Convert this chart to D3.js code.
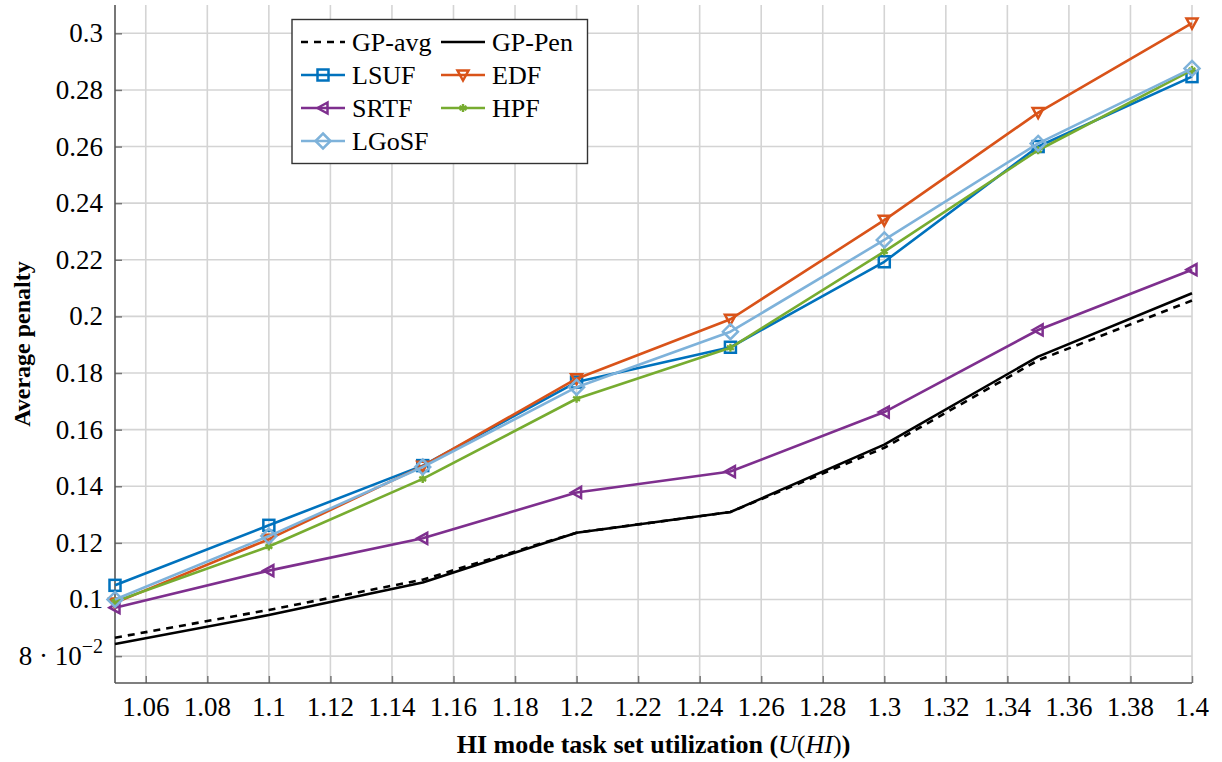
<!DOCTYPE html>
<html><head><meta charset="utf-8">
<script src="https://cdn.jsdelivr.net/npm/d3@7"></script>
<style>
html,body{margin:0;padding:0;background:#fff;}
text{font-family:'Liberation Serif','Times New Roman',Tinos,'DejaVu Serif',serif;}
</style></head>
<body>
<svg id="chart" width="1222" height="762"></svg>
<script>
const xValues = [1.05, 1.1, 1.15, 1.2, 1.25, 1.3, 1.35, 1.4];
const gpAvg  = [0.0865, 0.0963, 0.1070, 0.1236, 0.1309, 0.1536, 0.1845, 0.2056];
const gpPen  = [0.0843, 0.0945, 0.1060, 0.1236, 0.1309, 0.1547, 0.1858, 0.2082];
const lsuf   = [0.1050, 0.1262, 0.1473, 0.1768, 0.1891, 0.2193, 0.2600, 0.2847];
const edf    = [0.0988, 0.1213, 0.1471, 0.1780, 0.1990, 0.2340, 0.2720, 0.3036];
const srtf   = [0.0971, 0.1102, 0.1216, 0.1378, 0.1452, 0.1662, 0.1952, 0.2165];
const hpf    = [0.0993, 0.1187, 0.1426, 0.1709, 0.1889, 0.2229, 0.2587, 0.2870];
const lgosf  = [0.1000, 0.1224, 0.1468, 0.1750, 0.1946, 0.2270, 0.2611, 0.2876];
const seriesNames = ["GP-avg", "GP-Pen", "LSUF", "EDF", "SRTF", "HPF", "LGoSF"];
const xTicks = [1.06,1.08,1.1,1.12,1.14,1.16,1.18,1.2,1.22,1.24,1.26,1.28,1.3,1.32,1.34,1.36,1.38,1.4];
const xTickLabels = ["1.06","1.08","1.1","1.12","1.14","1.16","1.18","1.2","1.22","1.24","1.26","1.28","1.3","1.32","1.34","1.36","1.38","1.4"];
const yTicks = [0.08,0.1,0.12,0.14,0.16,0.18,0.2,0.22,0.24,0.26,0.28,0.3];
const yTickLabels = ["8·10^-2","0.1","0.12","0.14","0.16","0.18","0.2","0.22","0.24","0.26","0.28","0.3"];
const xLabel = "HI mode task set utilization";
const yLabel = "Average penalty";

const FONT = "'Liberation Serif','Times New Roman',Tinos,'DejaVu Serif',serif";
const styles = {
  "GP-avg": {color:"#000000", dash:"7,6", marker:null},
  "GP-Pen": {color:"#000000", dash:null, marker:null},
  "LSUF":   {color:"#0072BD", dash:null, marker:"square"},
  "EDF":    {color:"#D95319", dash:null, marker:"tridown"},
  "SRTF":   {color:"#7E2F8E", dash:null, marker:"trileft"},
  "HPF":    {color:"#77AC30", dash:null, marker:"asterisk"},
  "LGoSF":  {color:"#7EB2DA", dash:null, marker:"diamond"}
};
const seriesData = [gpAvg, gpPen, lsuf, edf, srtf, hpf, lgosf];

const svg = d3.select("#chart").attr("font-family", FONT);
const L = 115, R = 1192, T = 5, B = 683;
const x = d3.scaleLinear().domain([1.05, 1.4]).range([L, R]);
const y = d3.scaleLinear().domain([0.0705, 0.31]).range([B, T]);

// grid
const g = svg.append("g");
g.selectAll(".gx").data(xTicks).enter().append("line")
  .attr("x1", d=>x(d)).attr("x2", d=>x(d)).attr("y1", T).attr("y2", B)
  .attr("stroke", "#d4d4d4").attr("stroke-width", 1.6);
g.selectAll(".gy").data(yTicks).enter().append("line")
  .attr("x1", L).attr("x2", R).attr("y1", d=>y(d)).attr("y2", d=>y(d))
  .attr("stroke", "#d4d4d4").attr("stroke-width", 1.6);

// axes using d3 axes (ticks pointing inward)
const xAxis = d3.axisTop(x).tickValues(xTicks).tickSize(7).tickFormat("");
const yAxis = d3.axisRight(y).tickValues(yTicks).tickSize(7).tickFormat("");
const xa = svg.append("g").attr("transform", `translate(0,${B})`).call(xAxis);
const ya = svg.append("g").attr("transform", `translate(${L},0)`).call(yAxis);
[xa, ya].forEach(a => {
  a.select(".domain").remove();
  a.selectAll(".tick line").attr("stroke", "#777").attr("stroke-width", 1.5);
});
svg.append("line").attr("x1", L).attr("x2", R).attr("y1", B).attr("y2", B)
  .attr("stroke", "#555").attr("stroke-width", 1.6);
svg.append("line").attr("x1", L).attr("x2", L).attr("y1", T).attr("y2", B)
  .attr("stroke", "#555").attr("stroke-width", 1.6);

// tick labels
svg.append("g").selectAll("text").data(xTicks).enter().append("text")
  .attr("x", d=>x(d)).attr("y", 716).attr("text-anchor", "middle")
  .attr("font-family", FONT).attr("font-size", 27).attr("fill", "#000")
  .text((d,i)=>xTickLabels[i]);
const yl = svg.append("g");
yTicks.forEach((d,i) => {
  const lab = yTickLabels[i];
  const t = yl.append("text").attr("x", 103).attr("y", y(d) + 9)
    .attr("text-anchor", "end").attr("font-family", FONT).attr("font-size", 27).attr("fill", "#000");
  if (lab.includes("^")) {
    const [base, exp] = lab.split("^");
    t.append("tspan").text(base.replace("·", " · "));
    t.append("tspan").attr("dy", -12).attr("font-size", 20).text("\u2212" + exp.replace("-", ""));
  } else {
    t.text(lab);
  }
});

// axis labels
const xl = svg.append("text").attr("x", (L+R)/2).attr("y", 753)
  .attr("text-anchor", "middle").attr("font-family", FONT).attr("font-size", 26).attr("fill", "#000");
xl.append("tspan").attr("font-weight", "bold").text(xLabel + " (");
xl.append("tspan").attr("font-style", "italic").text("U");
xl.append("tspan").text("(");
xl.append("tspan").attr("font-style", "italic").text("HI");
xl.append("tspan").text(")");
xl.append("tspan").attr("font-weight", "bold").text(")");

svg.append("text").attr("transform", `translate(30,${(T+B)/2}) rotate(-90)`)
  .attr("text-anchor", "middle").attr("font-family", FONT).attr("font-size", 24).attr("font-weight", "bold")
  .attr("fill", "#000").text(yLabel);

// markers
function drawMarker(sel, type, color, cx, cy) {
  const m = sel.append("g").attr("transform", `translate(${cx},${cy})`);
  const common = s => s.attr("fill", "none").attr("stroke", color).attr("stroke-width", 2.5);
  if (type === "square") {
    common(m.append("rect").attr("x", -5.5).attr("y", -5.5).attr("width", 11).attr("height", 11));
  } else if (type === "tridown") {
    common(m.append("path").attr("d", "M-5.5,-4.5 L5.5,-4.5 L0,5.5 Z"));
  } else if (type === "trileft") {
    common(m.append("path").attr("d", "M-5.5,0 L4.5,-5.5 L4.5,5.5 Z"));
  } else if (type === "diamond") {
    common(m.append("path").attr("d", "M0,-7.5 L7.5,0 L0,7.5 L-7.5,0 Z"));
  } else if (type === "asterisk") {
    common(m.append("path").attr("d", d3.symbol().type(d3.symbolAsterisk).size(45)()))
      .attr("stroke-width", 2.4);
  }
}

const line = d3.line().x((d,i)=>x(xValues[i])).y(d=>y(d));
seriesNames.forEach((name, k) => {
  const st = styles[name];
  const gg = svg.append("g");
  gg.append("path").datum(seriesData[k]).attr("d", line)
    .attr("fill", "none").attr("stroke", st.color).attr("stroke-width", 2.6)
    .attr("stroke-linejoin", "round")
    .attr("stroke-dasharray", st.dash);
  if (st.marker) {
    seriesData[k].forEach((v,i) => drawMarker(gg, st.marker, st.color, x(xValues[i]), y(v)));
  }
});

// legend
const lg = svg.append("g");
lg.append("rect").attr("x", 292).attr("y", 19.5).attr("width", 295.5).attr("height", 144)
  .attr("fill", "#fff").attr("stroke", "#333").attr("stroke-width", 1.4);
const rowsY = [42, 75, 108, 141];
seriesNames.forEach((name, k) => {
  const col = k < 2 ? k : (k - 2) % 2;
  const row = k < 2 ? 0 : 1 + Math.floor((k - 2) / 2);
  const st = styles[name];
  const x0 = col === 0 ? 301 : 441;
  const x1 = col === 0 ? 345 : 485;
  const yy = rowsY[row];
  lg.append("line").attr("x1", x0).attr("x2", x1).attr("y1", yy).attr("y2", yy)
    .attr("stroke", st.color).attr("stroke-width", 2.6).attr("stroke-dasharray", st.dash);
  if (st.marker) drawMarker(lg, st.marker, st.color, (x0+x1)/2, yy);
  lg.append("text").attr("x", col === 0 ? 352 : 492).attr("y", yy + 9)
    .attr("font-family", FONT).attr("font-size", 26).attr("fill", "#000").text(name);
});
</script>
</body></html>
